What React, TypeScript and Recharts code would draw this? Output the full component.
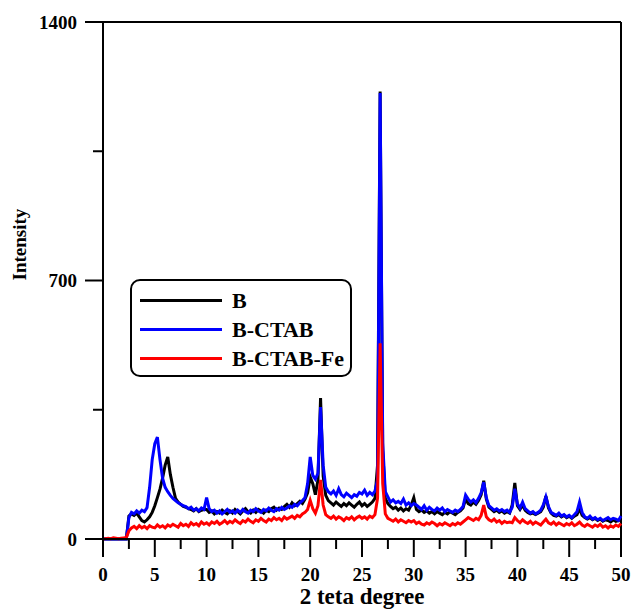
import React from "react";
import {
  LineChart, Line, XAxis, YAxis, ReferenceLine, Legend,
} from "recharts";

// 2θ positions: 0 .. 50 every 0.25 degree
const STEP = 0.25;

// B (black)
const bValues = [
  0, 0, 0, 0, 0, 0, 0, 0, 0, 0,
  62, 68, 64, 70, 60, 50, 46, 52, 60, 72,
  90, 112, 135, 165, 200, 222, 175, 140, 110, 100,
  94, 88, 86, 82, 80, 76, 82, 74, 78, 80,
  80, 72, 76, 68, 74, 70, 78, 72, 68, 76,
  70, 80, 74, 68, 76, 82, 74, 70, 78, 72,
  80, 76, 70, 78, 74, 82, 86, 78, 84, 80,
  88, 94, 86, 98, 90, 96, 102, 96, 108, 125,
  168, 150, 120, 160, 382, 170, 118, 104, 98, 92,
  100, 94, 88, 96, 90, 98, 92, 86, 94, 100,
  90, 96, 88, 94, 100, 110, 200, 1212, 240, 110,
  96, 88, 82, 86, 78, 84, 76, 82, 78, 92,
  112, 80, 74, 78, 72, 76, 70, 74, 68, 74,
  70, 66, 72, 68, 74, 70, 66, 72, 76, 84,
  108, 96, 92, 100, 94, 104, 120, 158, 108, 86,
  80, 74, 78, 72, 76, 70, 74, 70, 92, 152,
  90, 80, 92, 78, 72, 68, 70, 66, 70, 74,
  86, 116, 84, 70, 64, 62, 66, 60, 64, 58,
  62, 56, 62, 66, 82, 64, 58, 54, 58, 52,
  56, 50, 54, 48, 52, 50, 46, 52, 48, 50,
  54,
];

// B-CTAB (blue)
const ctabValues = [
  0, 0, 0, 0, 0, 0, 0, 0, 0, 0,
  58, 72, 68, 76, 70, 78, 74, 85, 140, 215,
  258, 276, 215, 165, 140, 128, 118, 110, 104, 98,
  94, 90, 88, 82, 86, 78, 82, 76, 84, 80,
  112, 82, 74, 78, 70, 76, 68, 74, 80, 72,
  76, 70, 78, 72, 80, 74, 70, 78, 74, 82,
  76, 72, 80, 76, 84, 78, 74, 82, 78, 86,
  80, 84, 90, 86, 94, 90, 98, 104, 112, 150,
  222, 172, 162, 178, 357, 200, 140, 128, 122, 130,
  118, 136, 120, 114, 124, 118, 112, 120, 116, 126,
  122, 132, 118, 126, 120, 130, 160, 1208, 260, 128,
  114, 100, 106, 98, 102, 96, 108, 92, 98, 90,
  96, 92, 86, 80, 90, 78, 86, 80, 76, 84,
  78, 84, 74, 80, 76, 72, 78, 74, 80, 88,
  119, 108, 100, 106, 98, 110, 125, 154, 112, 90,
  84, 78, 82, 76, 80, 74, 78, 72, 86, 136,
  95, 84, 100, 82, 76, 70, 74, 68, 72, 78,
  92, 114, 88, 72, 68, 64, 70, 62, 66, 60,
  64, 58, 66, 74, 100, 72, 60, 56, 62, 54,
  58, 52, 56, 50, 54, 58, 52, 56, 54, 50,
  62,
];

// B-CTAB-Fe (red)
const feValues = [
  0, 1, 2, 1, 3, 2, 1, 2, 3, 4,
  22, 30, 34, 28, 36, 30, 34, 28, 36, 32,
  30, 38, 32, 36, 30, 38, 34, 40, 36, 32,
  42, 36, 40, 34, 44, 38, 42, 36, 46, 40,
  44, 38, 46, 42, 48, 40, 44, 50, 42, 48,
  44, 52, 46, 42, 50, 46, 54, 48, 44, 52,
  48, 56, 50, 46, 54, 50, 58, 52, 56, 50,
  60, 54, 58, 62, 56, 64, 60, 68, 72, 80,
  105, 82, 70, 90, 160, 92, 66, 60, 56, 62,
  54, 60, 56, 50, 58, 54, 60, 52, 58, 62,
  56, 60, 54, 62, 58, 66, 110, 530, 150, 68,
  56, 52, 48, 54, 46, 52, 48, 44, 50, 46,
  50, 42, 46, 40, 38, 44, 40, 46, 42, 36,
  42, 38, 44, 40, 36, 42, 38, 44, 40, 46,
  52, 58, 54, 50, 56, 52, 64, 92, 60, 52,
  48, 54, 46, 50, 42, 48, 44, 46, 44, 58,
  50, 44, 52, 46, 42, 48, 40, 46, 42, 38,
  46, 54, 44, 40, 46, 38, 44, 40, 36, 42,
  38, 44, 36, 40, 46, 38, 34, 40, 36, 32,
  38, 34, 40, 32, 36, 30, 36, 32, 38, 34,
  42,
];

const xTicks = [0, 2.5, 5, 7.5, 10, 12.5, 15, 17.5, 20, 22.5, 25, 27.5, 30, 32.5, 35, 37.5, 40, 42.5, 45, 47.5, 50];
const yTicks = [0, 350, 700, 1050, 1400];

const seriesInfo = [
  { key: "b", name: "B", color: "#000000" },
  { key: "ctab", name: "B-CTAB", color: "#0000ff" },
  { key: "fe", name: "B-CTAB-Fe", color: "#ff0000" },
];

const data = bValues.map((v, i) => ({
  x: i * STEP,
  b: v,
  ctab: ctabValues[i],
  fe: feValues[i],
}));

const FONT = "'Liberation Serif', 'Times New Roman', serif";

function YTick(props: any) {
  const { x, y, payload } = props;
  const major = payload.value % 700 === 0;
  return (
    <g>
      <line x1={x} x2={x - (major ? 18 : 10)} y1={y} y2={y} stroke="#000" strokeWidth={2} />
      {major && (
        <text x={x - 26} y={y} dy="0.35em" textAnchor="end" fontFamily={FONT} fontWeight="bold" fontSize={19} fill="#000">
          {payload.value}
        </text>
      )}
    </g>
  );
}

function XTick(props: any) {
  const { x, y, payload } = props;
  const major = payload.value % 5 === 0;
  return (
    <g>
      <line x1={x} x2={x} y1={y} y2={y + (major ? 18 : 10)} stroke="#000" strokeWidth={2} />
      {major && (
        <text x={x} y={y + 42} textAnchor="middle" fontFamily={FONT} fontWeight="bold" fontSize={19} fill="#000">
          {payload.value}
        </text>
      )}
    </g>
  );
}

function LegendBox() {
  return (
    <div style={{
      width: 222, height: 98, boxSizing: "border-box", border: "2px solid #000", borderRadius: 10,
      background: "#fff", paddingTop: 5, fontFamily: FONT,
    }}>
      {seriesInfo.map((s) => (
        <div key={s.key} style={{ display: "flex", alignItems: "center", height: 29 }}>
          <div style={{ marginLeft: 8, width: 82, height: 3, background: s.color }} />
          <span style={{ marginLeft: 10, fontWeight: "bold", fontSize: 22, color: "#000" }}>{s.name}</span>
        </div>
      ))}
    </div>
  );
}

export default function App() {
  return (
    <div style={{ position: "absolute", left: 0, top: 0, width: 632, height: 609, background: "#fff" }}>
      <LineChart width={632} height={609} data={data} margin={{ top: 22, right: 11, left: 0, bottom: 0 }}>
        <XAxis
          dataKey="x" type="number" domain={[0, 50]} ticks={xTicks} interval={0}
          height={70} tickSize={0} tickMargin={0} tickLine={false}
          axisLine={{ stroke: "#000", strokeWidth: 2 }} tick={<XTick />}
          label={{ value: "2 teta degree", position: "insideBottom", offset: 5, fontFamily: FONT, fontWeight: "bold", fontSize: 23, fill: "#000" }}
        />
        <YAxis
          type="number" domain={[0, 1400]} ticks={yTicks} interval={0}
          width={103} tickSize={0} tickMargin={0} tickLine={false}
          axisLine={{ stroke: "#000", strokeWidth: 2 }} tick={<YTick />}
          label={{ value: "Intensity", angle: -90, position: "insideLeft", offset: 19, fontFamily: FONT, fontWeight: "bold", fontSize: 19, fill: "#000" }}
        />
        <ReferenceLine y={1400} stroke="#000" strokeWidth={2} />
        <ReferenceLine x={50} stroke="#000" strokeWidth={2} />
        {seriesInfo.map((s) => (
          <Line
            key={s.key} type="linear" dataKey={s.key} name={s.name} stroke={s.color}
            strokeWidth={3} dot={false} activeDot={false} isAnimationActive={false}
          />
        ))}
        <Legend
          content={<LegendBox />} layout="horizontal" align="center" verticalAlign="middle"
          wrapperStyle={{ left: 130, top: 279, width: 222 }}
        />
      </LineChart>
    </div>
  );
}
